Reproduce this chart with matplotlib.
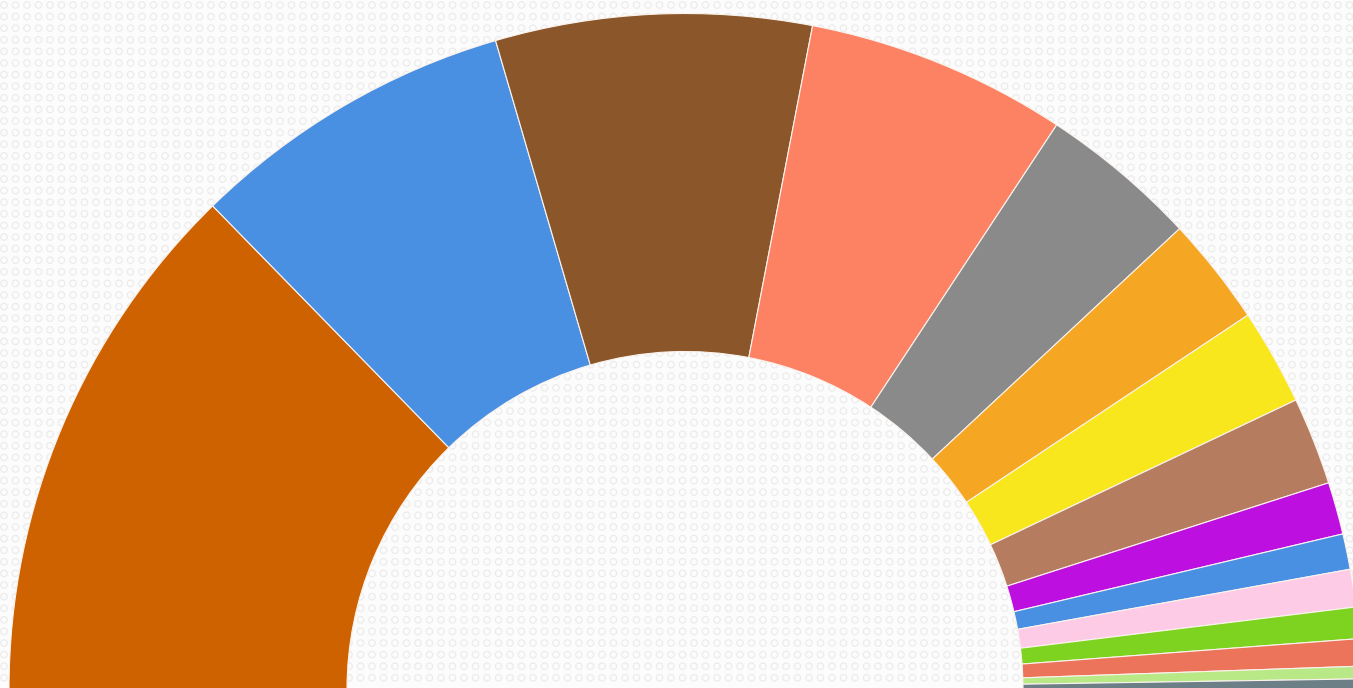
import numpy as np
import matplotlib
matplotlib.use("Agg")
import matplotlib.pyplot as plt

# Vote shares (%) per party, drawn clockwise from the left end of the half ring
parties = [f"Party {i}" for i in range(1, 16)]
shares = [25.4, 15.6, 15.1, 12.5, 7.6, 5.2, 4.6, 4.2, 2.5, 1.7, 1.8, 1.5, 1.3, 0.6, 0.5]
colors = ["#CF6200", "#4A90E2", "#8B572A", "#FD8264", "#8A8A8A", "#F5A623",
          "#F8E71C", "#B57C5F", "#BD10E0", "#4A90E2", "#FDCBE5", "#7ED321",
          "#EB745A", "#B8E986", "#6C7F86"]

W, H = 1353, 688
fig = plt.figure(figsize=(W / 100, H / 100), dpi=100, facecolor="#fcfcfc")
ax = fig.add_axes([0, 0, 1, 1])
ax.set_facecolor("#fcfcfc")

# faint ring texture in the background
gx, gy = np.meshgrid(np.arange(4, W, 11.5), np.arange(5, H, 11.6))
ax.scatter(gx.ravel(), 689.5 - gy.ravel(), s=22, facecolors="none",
           edgecolors="#ececec", linewidths=0.9, zorder=0)

# half donut: the lower (hidden) half takes the same total as the visible one
total = sum(shares)
vals = shares + [total]
cols = colors + ["none"]
wedges, _ = ax.pie(vals, colors=cols, startangle=180, counterclock=False,
                   radius=676, center=(685, 0),
                   wedgeprops=dict(width=338, edgecolor="#fbf3ee", linewidth=0.8),
                   frame=True)
wedges[-1].set_edgecolor("none")
for w in wedges:
    w.set_zorder(2)

ax.set_xlim(0, W)
ax.set_ylim(689.5 - H, 689.5)
ax.set_aspect("auto")
ax.axis("off")

fig.savefig("out.png", dpi=100, facecolor=fig.get_facecolor())
